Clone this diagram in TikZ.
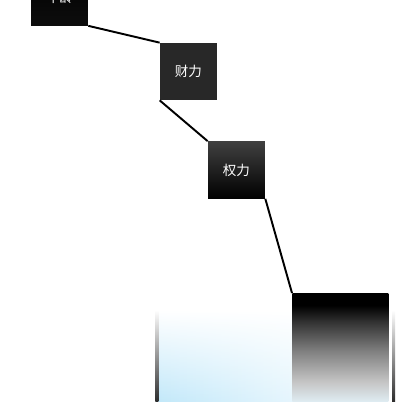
\documentclass[tikz,border=0pt]{standalone}
\usepackage{fontspec}
\newfontfamily\cjk{Noto Sans CJK SC}
\usetikzlibrary{positioning, fadings}
\definecolor{mydark}{RGB}{40, 40, 40}
\definecolor{mysky}{RGB}{150, 215, 245}
\pgfdeclareverticalshading{stagefade}{100bp}{color(0bp)=(mysky!20!white); color(28bp)=(mysky!25!white); color(38bp)=(gray!45); color(51bp)=(gray); color(63bp)=(black!80); color(70bp)=(black); color(100bp)=(black)}

\begin{document}
\begin{tikzpicture}[x=0.02cm, y=-0.02cm,
  card/.style={minimum width=1.14cm, minimum height=1.14cm, inner sep=0pt, text=white, font=\cjk\fontsize{7.7}{9}\selectfont},
  link/.style={line width=1.1pt, black}]
\useasboundingbox (0,0) rectangle (414,402);

% base block
\node[anchor=north west, minimum width=4.72cm, minimum height=2.2cm, inner sep=0pt,
  left color=mysky!70, right color=white, path fading=north] (base) at (157,310) {};
\shade[top color=white, bottom color=black] ([xshift=-0.03cm]base.north west) rectangle ([xshift=0.03cm]base.south west);
\shade[top color=white, bottom color=black] ([xshift=-0.03cm]base.north east) rectangle ([xshift=0.03cm]base.south east);

% steps
\node[card, top color=black, bottom color=black!95] (age) at (59.5,-3) {年龄};
\node[card, fill=mydark] (wealth) at (188.5,71.5) {财力};
\node[card, top color=black!75, bottom color=black] (power) at (236.5,170) {权力};
\node[anchor=north west, minimum width=1.92cm, minimum height=2.4cm, inner sep=0pt,
  shading=stagefade] (top) at (292,293) {};

\draw[link] (age.south east) -- (wealth.north west);
\draw[link] (wealth.south west) -- (power.north west);
\draw[link] (power.south east) -- (top.north west);
\end{tikzpicture}
\end{document}
